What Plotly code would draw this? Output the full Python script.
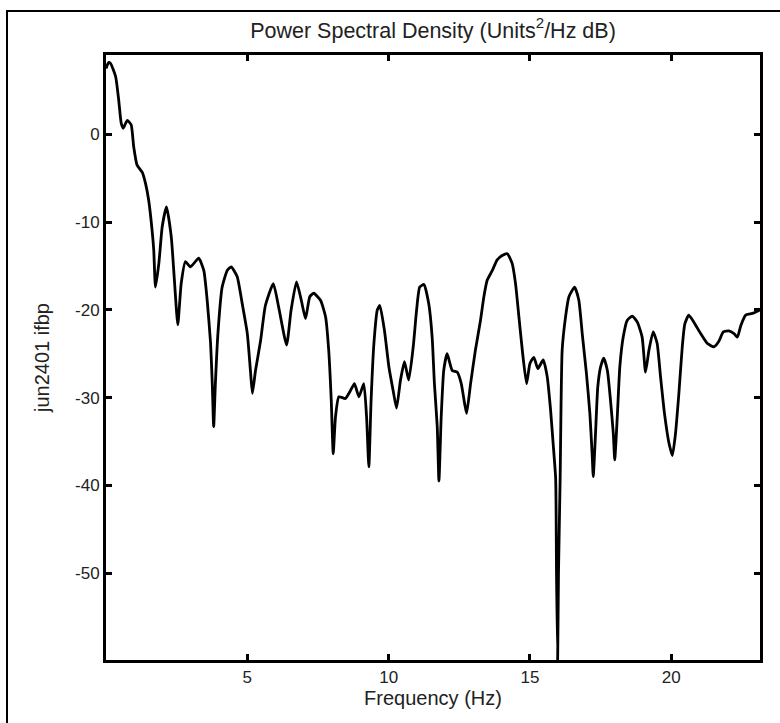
import plotly.graph_objects as go

# Frequency (Hz) and PSD (dB)
freq_hz = [0.00, 0.09, 0.16, 0.34, 0.45, 0.54, 0.61, 0.75, 0.89, 0.98, 1.10, 1.28, 1.40, 1.51,
           1.63, 1.69, 1.75, 1.87, 1.99, 2.14, 2.31, 2.42, 2.54, 2.66, 2.81, 2.99, 3.28, 3.46,
           3.58, 3.70, 3.76, 3.81, 3.87, 3.96, 4.11, 4.29, 4.43, 4.64, 4.82, 5.00, 5.11, 5.18,
           5.29, 5.47, 5.64, 5.92, 6.11, 6.39, 6.55, 6.74, 6.91, 7.06, 7.21, 7.35, 7.59, 7.77,
           7.88, 7.97, 8.04, 8.12, 8.24, 8.47, 8.65, 8.79, 8.95, 9.12, 9.22, 9.30, 9.38, 9.48,
           9.60, 9.69, 9.85, 10.01, 10.16, 10.28, 10.42, 10.56, 10.71, 10.87, 10.99, 11.10,
           11.25, 11.42, 11.54, 11.62, 11.72, 11.78, 11.86, 11.95, 12.07, 12.25, 12.43, 12.57,
           12.69, 12.76, 12.90, 13.07, 13.25, 13.37, 13.49, 13.67, 13.84, 14.02, 14.20, 14.37,
           14.49, 14.61, 14.73, 14.88, 15.00, 15.14, 15.28, 15.47, 15.61, 15.73, 15.82, 15.91,
           15.94, 15.98, 16.01, 16.07, 16.10, 16.14, 16.26, 16.38, 16.58, 16.73, 16.85, 17.00,
           17.12, 17.20, 17.24, 17.32, 17.40, 17.50, 17.61, 17.74, 17.85, 17.95, 18.00, 18.09,
           18.18, 18.30, 18.44, 18.62, 18.80, 18.97, 19.09, 19.21, 19.36, 19.50, 19.62, 19.76,
           19.92, 20.04, 20.15, 20.27, 20.39, 20.48, 20.62, 20.80, 21.04, 21.27, 21.51, 21.68,
           21.84, 22.04, 22.22, 22.34, 22.46, 22.63, 22.87, 23.14]

psd_db = [7.5, 8.2, 8.1, 6.6, 3.9, 1.25, 0.7, 1.6, 1.1, -1.4, -3.5, -4.3, -5.6, -7.5,
          -10.9, -13.2, -17.4, -14.7, -10.5, -8.25, -11.7, -16.6, -21.7, -17.0, -14.5, -15.1, -14.1, -15.5,
          -18.9, -23.8, -28.4, -33.3, -28.4, -22.7, -17.4, -15.5, -15.1, -16.2, -19.3, -22.7, -26.9, -29.5,
          -26.9, -23.5, -19.5, -17.0, -19.7, -24.0, -20.0, -16.8, -18.9, -21.0, -18.5, -18.1, -18.9, -20.8,
          -24.6, -30.3, -36.4, -32.2, -29.9, -30.1, -29.2, -28.4, -29.9, -28.4, -32.2, -37.9, -30.3, -23.8,
          -20.0, -19.5, -22.3, -26.5, -29.2, -31.2, -28.0, -25.9, -28.0, -24.2, -20.0, -17.4,
          -17.1, -19.3, -23.1, -28.4, -33.3, -39.5, -32.2, -26.9, -25.0, -26.9, -27.1, -28.4,
          -30.7, -31.8, -28.4, -24.6, -21.2, -18.5, -16.6, -15.5, -14.3, -13.8, -13.6, -14.7,
          -17.0, -20.8, -24.6, -28.4, -26.1, -25.4, -26.7, -25.7, -27.6, -31.4, -35.2, -39.2,
          -50.0, -59.9, -50.0, -39.0, -31.0, -24.6, -20.8, -18.5, -17.4, -18.9, -22.7, -27.3,
          -31.8, -36.4, -39.0, -34.1, -28.8, -26.5, -25.5, -26.9, -30.3, -34.1, -37.1, -32.2,
          -26.5, -23.1, -21.2, -20.7, -21.4, -23.1, -27.1, -24.6, -22.5, -23.8, -27.6, -31.8,
          -35.2, -36.6, -34.1, -29.5, -24.2, -21.6, -20.6, -21.4, -22.7, -23.8, -24.2, -23.6,
          -22.5, -22.4, -22.7, -23.1, -21.8, -20.6, -20.4, -20.0]

x_ticks = [5, 10, 15, 20]
y_ticks = [0, -10, -20, -30, -40, -50]
y_tick_text = ["0", "-10", "-20", "-30", "-40", "-50"]

FONT = "Liberation Sans, Arial, Helvetica, sans-serif"

fig = go.Figure()
fig.add_trace(go.Scatter(x=freq_hz, y=psd_db, mode="lines",
                         line=dict(color="black", width=2.8, shape="spline", smoothing=0.5),
                         hoverinfo="skip"))

W, H = 780, 723
L, R, T, B = 106, 20, 55, 63

fig.update_layout(
    width=W, height=H,
    margin=dict(l=L, r=R, t=T, b=B),
    paper_bgcolor="white", plot_bgcolor="white",
    showlegend=False,
    font=dict(family=FONT, size=17, color="#222"),
    title=dict(text="Power Spectral Density (Units<sup>2</sup>/Hz dB)",
               x=0.5, xref="paper", xanchor="center",
               y=1 - 30 / H, yref="container", yanchor="middle",
               font=dict(family=FONT, size=21.5, color="#222")),
    xaxis=dict(range=[0, 23.14], tickmode="array", tickvals=x_ticks,
               ticks="inside", ticklen=6, tickwidth=2.5, tickcolor="black",
               showline=True, linewidth=3, linecolor="black", mirror="ticks",
               showgrid=False, zeroline=False,
               title=dict(text="Frequency (Hz)", standoff=4,
                          font=dict(family=FONT, size=20, color="#222"))),
    yaxis=dict(range=[-59.9, 9.05], tickmode="array", tickvals=y_ticks, ticktext=y_tick_text,
               ticks="inside", ticklen=6, tickwidth=2.5, tickcolor="black",
               showline=True, linewidth=3, linecolor="black", mirror="ticks",
               showgrid=False, zeroline=False,
               title=dict(text="jun2401 ifbp", standoff=21,
                          font=dict(family=FONT, size=20, color="#222"))),
)

# outer figure frame (only left and top edges fall inside the picture)
pw, ph = W - L - R, H - T - B
fig.add_shape(type="rect", xref="paper", yref="paper",
              x0=(7 - L) / pw, x1=(800 - L) / pw,
              y0=(H - B - 740) / ph, y1=(H - B - 11) / ph,
              line=dict(color="black", width=2), fillcolor="rgba(0,0,0,0)")

fig.write_html("out.html")
